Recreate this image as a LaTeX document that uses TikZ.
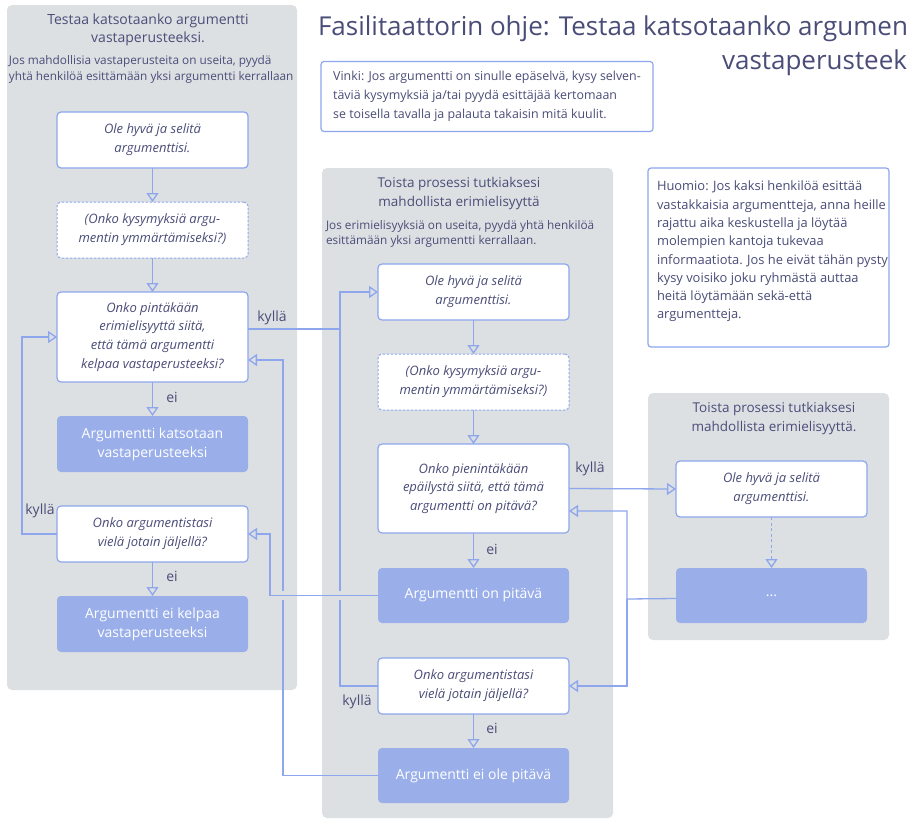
\documentclass[tikz,border=0pt]{standalone}
\usepackage{fontspec}
\setmainfont{Open Sans}
\usetikzlibrary{arrows.meta}

\definecolor{ink}{HTML}{4A4D78}
\definecolor{wire}{HTML}{8DA6EE}
\definecolor{solid}{HTML}{9AAFEA}
\definecolor{panel}{HTML}{DDE0E2}

\newcommand{\fsz}[2]{\fontsize{#1}{#2}\selectfont}

\begin{document}
\begin{tikzpicture}[x=1pt, y=-1pt,
  every node/.style={inner sep=0pt, outer sep=0pt, text=ink},
  panelbox/.style={fill=panel, rounded corners=5pt},
  qbox/.style={draw=wire, fill=white, line width=1.2pt, rounded corners=4pt,
    minimum width=191pt, minimum height=56pt, align=center,
    font=\itshape\fsz{13}{18.8}},
  dqbox/.style={qbox, dash pattern=on 2.5pt off 1.5pt, line width=1pt},
  endbox/.style={fill=solid, rounded corners=4pt, minimum width=191pt,
    minimum height=56pt, align=center, text=white, font=\fsz{14}{19}},
  notebox/.style={draw=wire, fill=white, line width=1.2pt, rounded corners=3pt},
  wireline/.style={draw=wire, line width=1.3pt},
  flow/.style={wireline, -{Triangle[open, length=9pt, width=12pt]}},
  lbl/.style={font=\fsz{14}{16}},
  ptitle/.style={align=center, font=\fsz{14}{18.5}},
  psub/.style={align=left, anchor=west, font=\fsz{11.8}{15.5}},
]
\useasboundingbox (0,0) rectangle (922,819);
\fill[white] (0,0) rectangle (922,819);
\clip (0,0) rectangle (922,819);

% grey swimlanes
\fill[panelbox] (7,5) rectangle (297,690);
\fill[panelbox] (322,168) rectangle (613,818);
\fill[panelbox] (648,393) rectangle (889,640);

% heading, cut off at the right margin
\begin{scope}
\clip (0,0) rectangle (907,140);
\node[align=right, anchor=west, font=\fsz{26}{34}] (title) at (318,46.2)
  {Fasilitaattorin ohje: Testaa katsotaanko argumentti\\vastaperusteeksi.};
\end{scope}

% notes
\node[notebox, minimum width=332pt, minimum height=70pt, align=left,
  font=\fsz{12.4}{19}] (vinki) at (487,96.5)
  {Vinki: Jos argumentti on sinulle epäselvä, kysy selven-\\täviä kysymyksiä ja/tai pyydä esittäjää kertomaan\\se toisella tavalla ja palauta takaisin mitä kuulit.};
\node[notebox, minimum width=241pt, minimum height=179pt] (huomio) at (768.5,257.5) {};
\node[anchor=north west, align=left, font=\fsz{12.9}{18.3}] (huomiotext) at (657,181)
  {Huomio: Jos kaksi henkilöä esittää\\vastakkaisia argumentteja, anna heille\\rajattu aika keskustella ja löytää\\molempien kantoja tukevaa\\informaatiota. Jos he eivät tähän pysty\\kysy voisiko joku ryhmästä auttaa\\heitä löytämään sekä-että\\argumentteja.};

% left lane
\node[ptitle] (lefttitle) at (148,30) {Testaa katsotaanko argumentti\\vastaperusteeksi.};
\node[psub] (leftsub) at (9,69.5) {Jos mahdollisia vastaperusteita on useita, pyydä\\yhtä henkilöä esittämään yksi argumentti kerrallaan};

\node[qbox] (a1) at (152.5,140) {Ole hyvä ja selitä\\argumenttisi.};
\node[dqbox] (a2) at (152.5,230) {(Onko kysymyksiä argu-\\mentin ymmärtämiseksi?)};
\node[qbox, minimum height=90pt] (a3) at (152.5,337) {Onko pintäkään\\erimielisyyttä siitä,\\että tämä argumentti\\kelpaa vastaperusteeksi?};
\node[endbox] (a4) at (152.5,444) {Argumentti katsotaan\\vastaperusteeksi};
\node[qbox] (a5) at (152.5,534) {Onko argumentistasi\\vielä jotain jäljellä?};
\node[endbox] (a6) at (152.5,624) {Argumentti ei kelpaa\\vastaperusteeksi};

% middle lane
\node[ptitle, font=\fsz{13.5}{19}] (midtitle) at (459,193.5) {Toista prosessi tutkiaksesi\\mahdollista erimielisyyttä};
\node[psub] (midsub) at (326,234) {Jos erimielisyyksiä on useita, pyydä yhtä henkilöä\\esittämään yksi argumentti kerrallaan.};

\node[qbox] (b1) at (473.5,292) {Ole hyvä ja selitä\\argumenttisi.};
\node[dqbox] (b2) at (473.5,382) {(Onko kysymyksiä argu-\\mentin ymmärtämiseksi?)};
\node[qbox, minimum height=89pt] (b3) at (473.5,488.5) {Onko pienintäkään\\epäilystä siitä, että tämä\\argumentti on pitävä?};
\node[endbox, minimum height=55pt] (b4) at (473.5,595.5) {Argumentti on pitävä};
\node[qbox] (b5) at (473.5,686) {Onko argumentistasi\\vielä jotain jäljellä?};
\node[endbox, minimum height=55pt] (b6) at (473.5,775.5) {Argumentti ei ole pitävä};

% right lane
\node[ptitle, font=\fsz{13.5}{19}] (righttitle) at (774,418.5) {Toista prosessi tutkiaksesi\\mahdollista erimielisyyttä.};
\node[qbox] (c1) at (771.5,489) {Ole hyvä ja selitä\\argumenttisi.};
\node[endbox, minimum height=55pt] (c2) at (771.5,595.5) {...};

% straight flow
\draw[flow] (a1) -- (a2);
\draw[flow] (a2) -- (a3);
\draw[flow] (a3) -- (a4);
\draw[flow] (a5) -- (a6);
\draw[flow] (b1) -- (b2);
\draw[flow] (b2) -- (b3);
\draw[flow] (b3) -- (b4);
\draw[flow] (b5) -- (b6);
\draw[flow, dash pattern=on 3pt off 2.5pt] (c1) -- (c2);

% loops and cross-lane wires
\draw[flow] (a5.west) -- (22,534) |- (a3.west);
\draw[flow] (b5.west) -- (340,686) |- (b1.west);
\draw[wireline] ([yshift=8pt]a3.east) -- (340,329);
\draw[flow] (b6.west) -- (283,775.5) |- ([yshift=-23pt]a3.east);
% line jumps where the next wire crosses the two verticals
\fill[panel] (280,591) rectangle (286,600);
\fill[panel] (337,591) rectangle (343,600);
\draw[flow] (b4.west) -- (270,595.5) |- (a5.east);
\draw[flow] (b3.east) -- (c1.west);
\draw[flow] ([yshift=-3pt]c2.west) -- (627,599) |- ([yshift=-22.5pt]b3.east);
\draw[flow] (627,599) |- (b5.east);

% branch labels
\node[lbl] (ka3) at (272,318) {kyllä};
\node[lbl] (ea3) at (172,397) {ei};
\node[lbl] (ka5) at (40,511) {kyllä};
\node[lbl] (ea5) at (172,576) {ei};
\node[lbl] (kb3) at (590,469) {kyllä};
\node[lbl] (eb3) at (492,549) {ei};
\node[lbl] (kb5) at (357,702) {kyllä};
\node[lbl] (eb5) at (492,728) {ei};
\end{tikzpicture}
\end{document}
